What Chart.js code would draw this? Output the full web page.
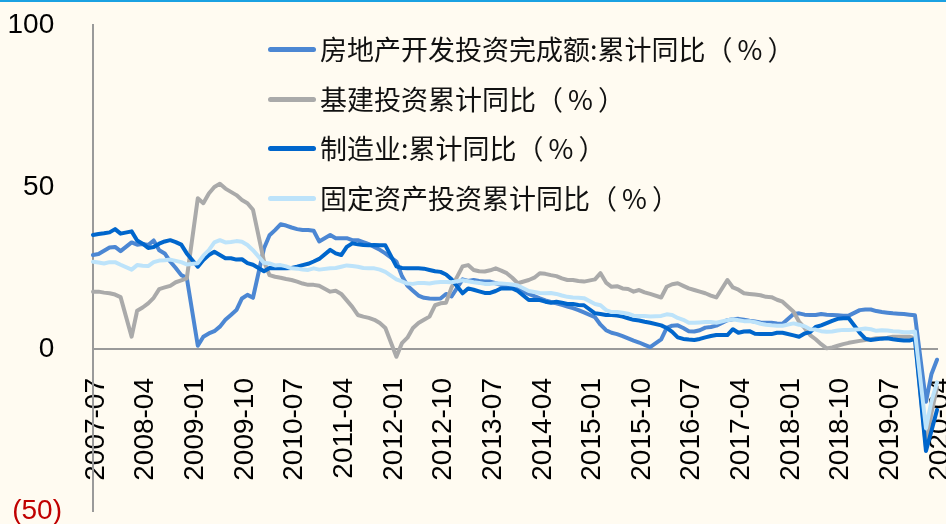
<!DOCTYPE html>
<html>
<head>
<meta charset="utf-8">
<script src="https://cdn.jsdelivr.net/npm/chart.js@4.4.1/dist/chart.umd.min.js"></script>
<style>
  html, body { margin: 0; padding: 0; background: #FFFBF1; }
  #wrap { position: relative; width: 946px; height: 524px; border-top: 2px solid #1BA1E2; box-sizing: border-box; }
  canvas { position: absolute; left: 0; top: -2px; }
  .legend { position: absolute; left: 0; top: -2px; }
  .item { position: absolute; left: 268px; height: 30px; white-space: nowrap;
          font-family: "Noto Sans CJK SC", sans-serif; font-size: 27px; line-height: 30px; color: #111; }
  .item .sw { position: absolute; left: 0; top: 13px; width: 48px; height: 5px; border-radius: 3px; }
  .item .tx { position: absolute; left: 52px; top: 0; }
  .item .pc { margin: 0 5px; }
</style>
</head>
<body>
<div id="wrap">
  <canvas id="chart" width="946" height="524"></canvas>
  <div class="legend" id="legend"></div>
</div>
<script>
// month categories 2007-07 .. 2020-04 (January values are not published, left empty)
const months = [];
for (let y = 2007, m = 7; months.length < 154; m++) {
  if (m > 12) { m = 1; y++; }
  months.push(y + '-' + String(m).padStart(2, '0'));
}
const tickEvery = 9;
const yTicks = [100, 50, 0, -50];

const seriesNames = [
  '房地产开发投资完成额:累计同比（%）',
  '基建投资累计同比（%）',
  '制造业:累计同比（%）',
  '固定资产投资累计同比（%）'
];
const seriesColors = ['#4C87D3', '#AAAAAA', '#0066CC', '#BDE3FA'];

// 房地产开发投资完成额:累计同比
const realEstate = [
  29.0, 29.3, 30.3, 31.3, 31.5, 30.2,
  null, 32.9, 32.2, 32.4, 32.1, 33.5, 30.5, 29.5, 27.0, 25.0, 22.8, 22.0,
  null, 1.0, 3.8, 4.8, 5.5, 6.9, 9.0, 10.5, 12.0, 15.6, 16.7, 15.8,
  null, 31.1, 35.1, 36.7, 38.5, 38.1, 37.5, 37.0, 36.7, 36.7, 36.5, 33.2,
  null, 35.2, 34.2, 34.2, 34.2, 33.6, 33.6, 33.0, 32.4, 31.5, 30.6, 29.5,
  null, 27.0, 22.5, 19.5, 18.0, 16.5, 15.8, 15.6, 15.5, 15.6, 17.0, 16.2,
  null, 21.5, 21.0, 21.3, 21.0, 20.8, 20.8, 20.3, 19.8, 19.5, 19.0, 18.5,
  null, 17.0, 16.3, 15.6, 15.0, 14.5, 14.1, 13.6, 13.1, 12.6, 12.0, 11.3,
  null, 9.8, 7.5, 5.8, 5.0, 4.6, 4.0, 3.3, 2.6, 2.0, 1.3, 0.6,
  null, 3.0, 6.5, 7.2, 7.3, 6.5, 5.5, 5.4, 5.8, 6.6, 6.8, 7.2,
  null, 8.9, 9.2, 9.3, 9.0, 8.7, 8.5, 8.2, 8.1, 8.1, 7.9, 7.8,
  null, 10.8, 11.0, 10.6, 10.5, 10.5, 10.8, 10.6, 10.5, 10.4, 10.3, 10.3,
  null, 12.0, 12.2, 12.2, 11.7, 11.4, 11.2, 11.0, 10.9, 10.8, 10.6, 10.4,
  null, -16.3, -7.7, -3.3
];

// 基建投资累计同比
const infra = [
  17.7, 17.7, 17.4, 17.2, 16.8, 16.0,
  null, 3.8, 11.8, 12.8, 14.1, 15.8, 18.5, 19.0, 19.5, 20.6, 21.2, 21.8,
  null, 46.5, 45.0, 48.0, 50.0, 51.0, 49.5, 48.5, 47.5, 46.0, 45.0, 43.0,
  null, 27.0, 22.8, 22.3, 22.0, 21.6, 21.3, 20.8, 20.2, 19.8, 19.8, 19.5,
  null, 17.7, 18.0, 17.0, 15.0, 13.0, 10.5, 10.0, 9.6, 9.0, 8.0, 6.5,
  null, -2.4, 1.8, 3.5, 6.5, 8.0, 9.0, 10.0, 13.5, 14.1, 14.3, 19.0,
  null, 25.5, 25.9, 24.4, 24.0, 23.9, 24.3, 24.9, 24.2, 23.4, 22.0, 20.3,
  null, 21.3, 22.0, 23.4, 23.2, 22.8, 22.5, 21.8, 21.3, 21.3, 21.0, 20.8,
  null, 21.5, 23.4, 20.5, 19.2, 19.4, 18.7, 18.5, 17.7, 18.2, 17.5, 17.0,
  null, 15.9, 19.2, 20.0, 20.3, 19.5, 18.7, 18.2, 17.7, 17.2, 16.5, 15.9,
  null, 21.3, 19.0, 18.3, 17.2, 17.0, 16.8, 16.6, 16.1, 16.0, 15.2, 14.6,
  null, 11.5, 8.4, 6.5, 4.3, 3.0, 1.5, 0.2, 0.5, 1.0, 1.5, 1.9,
  null, 2.5, 2.8, 3.0, 3.3, 3.4, 3.5, 3.8, 3.8, 3.8, 3.8, 3.3,
  null, -30.3, -19.7, -11.8
];

// 制造业:累计同比
const manufacturing = [
  35.2, 35.5, 35.7, 36.0, 37.0, 35.6,
  null, 36.3, 33.5, 32.5, 31.2, 31.5, 32.5, 33.2, 33.6, 33.0, 32.2, 29.5,
  null, 25.4, 27.5, 29.0, 30.0, 29.0, 28.0, 28.0, 27.6, 27.7, 26.5, 26.0,
  null, 24.0, 25.0, 24.9, 24.9, 24.9, 25.0, 25.4, 25.9, 26.3, 27.0, 27.8,
  null, 30.6, 29.5, 29.0, 31.5, 32.6, 32.3, 32.1, 32.0, 32.1, 32.0, 32.0,
  null, 25.5, 25.0, 24.9, 24.9, 24.9, 24.8, 24.4, 24.0, 23.8, 23.0, 21.5,
  null, 17.2, 18.7, 18.3, 17.8, 17.3, 17.3, 17.9, 18.7, 18.7, 18.7, 17.9,
  null, 15.1, 15.1, 15.1, 14.6, 14.3, 14.6, 14.3, 13.9, 13.9, 13.6, 13.5,
  null, 11.0, 10.8, 10.5, 10.5, 10.3, 10.0, 9.5, 9.0, 8.8, 8.4, 8.1,
  null, 7.3, 6.5, 5.3, 3.6, 3.1, 2.9, 2.8, 3.1, 3.6, 4.0, 4.3,
  null, 4.3, 6.1, 5.0, 5.4, 5.5, 4.7, 4.6, 4.6, 4.6, 5.0, 5.0,
  null, 4.2, 3.8, 4.8, 5.2, 6.8, 7.3, 8.0, 8.7, 9.3, 9.5, 9.5,
  null, 5.0, 3.2, 2.8, 3.0, 3.2, 3.3, 3.0, 2.8, 2.6, 2.6, 3.1,
  null, -31.5, -25.2, -18.8
];

// 固定资产投资累计同比
const fixedAsset = [
  26.9, 26.7, 26.4, 26.8, 26.8, 26.0,
  null, 24.5, 25.9, 25.7, 25.6, 26.8, 27.3, 27.4, 27.6, 27.2, 26.8, 26.1,
  null, 26.5, 28.8, 30.5, 32.9, 33.6, 32.9, 33.0, 33.3, 33.1, 32.1, 30.5,
  null, 26.6, 26.4, 25.8, 25.9, 25.5, 24.9, 24.8, 24.5, 24.4, 24.9, 24.5,
  null, 24.9, 25.0, 25.4, 25.8, 25.6, 25.4, 25.0, 24.9, 24.9, 24.5, 23.8,
  null, 21.5, 20.9, 20.2, 20.1, 20.4, 20.4, 20.2, 20.5, 20.7, 20.7, 20.6,
  null, 21.2, 20.9, 20.6, 20.4, 20.1, 20.1, 20.3, 20.2, 20.1, 19.9, 19.6,
  null, 17.9, 17.6, 17.3, 17.2, 17.3, 17.0, 16.5, 16.1, 15.9, 15.8, 15.7,
  null, 13.9, 13.5, 12.0, 11.4, 11.4, 11.2, 10.9, 10.3, 10.2, 10.2, 10.0,
  null, 10.2, 10.7, 10.5, 9.6, 9.0, 8.1, 8.1, 8.2, 8.3, 8.3, 8.1,
  null, 8.9, 9.2, 8.9, 8.6, 8.6, 8.3, 7.8, 7.5, 7.3, 7.2, 7.2,
  null, 7.9, 7.5, 7.0, 6.1, 6.0, 5.5, 5.3, 5.4, 5.7, 5.9, 5.9,
  null, 6.1, 6.3, 6.1, 5.6, 5.8, 5.7, 5.5, 5.4, 5.2, 5.2, 5.4,
  null, -24.5, -16.1, -10.3
];

const seriesData = [realEstate, infra, manufacturing, fixedAsset];
const drawOrder = [4, 3, 2, 1];

const datasets = seriesData.map((d, k) => ({
  label: seriesNames[k],
  data: d,
  borderColor: seriesColors[k],
  backgroundColor: seriesColors[k],
  borderWidth: 4,
  pointRadius: 0,
  tension: 0,
  spanGaps: true,
  borderJoinStyle: 'round',
  borderCapStyle: 'round',
  order: drawOrder[k]
}));

const numFont = { family: '"Liberation Sans", Arial, sans-serif', size: 28 };

new Chart(document.getElementById('chart'), {
  type: 'line',
  data: { labels: months, datasets },
  options: {
    responsive: false,
    devicePixelRatio: 1,
    animation: false,
    layout: { padding: { left: 0, top: 25, right: 9, bottom: 13 } },
    plugins: { legend: { display: false }, tooltip: { enabled: false } },
    scales: {
      x: {
        type: 'category',
        position: { y: 0 },
        offset: false,
        grid: { display: false, drawTicks: false },
        border: { display: true, color: '#9A9A9A', width: 2 },
        ticks: {
          autoSkip: false,
          minRotation: 90,
          maxRotation: 90,
          padding: 29,
          labelOffset: 3,
          color: '#000',
          font: numFont,
          callback: (v, i) => (i % tickEvery === 0 ? months[i] : null)
        },
        afterFit: s => { s.paddingLeft = 0; s.paddingRight = 0; }
      },
      y: {
        min: -50,
        max: 100,
        grid: { display: false, drawTicks: false },
        border: { display: true, color: '#9A9A9A', width: 2 },
        afterBuildTicks: s => { s.ticks = yTicks.map(v => ({ value: v })); },
        ticks: {
          padding: 31,
          font: numFont,
          color: c => (c.tick && c.tick.value < 0 ? '#C00000' : '#000'),
          callback: v => (v < 0 ? '(' + Math.abs(v) + ')' : v + ' ')
        },
        afterFit: s => { s.width = 93; s.paddingTop = 0; s.paddingBottom = 0; }
      }
    }
  }
});

// legend
const legendTops = [34, 84, 133, 183];
const legend = document.getElementById('legend');
seriesNames.forEach((name, k) => {
  const it = document.createElement('div');
  it.className = 'item';
  it.style.top = legendTops[k] + 'px';
  const sw = document.createElement('span');
  sw.className = 'sw';
  sw.style.background = seriesColors[k];
  const tx = document.createElement('span');
  tx.className = 'tx';
  const parts = name.split('%');
  const pc = document.createElement('span');
  pc.className = 'pc';
  pc.textContent = '%';
  tx.append(parts[0], pc, parts[1]);
  it.append(sw, tx);
  legend.appendChild(it);
});
</script>
</body>
</html>
